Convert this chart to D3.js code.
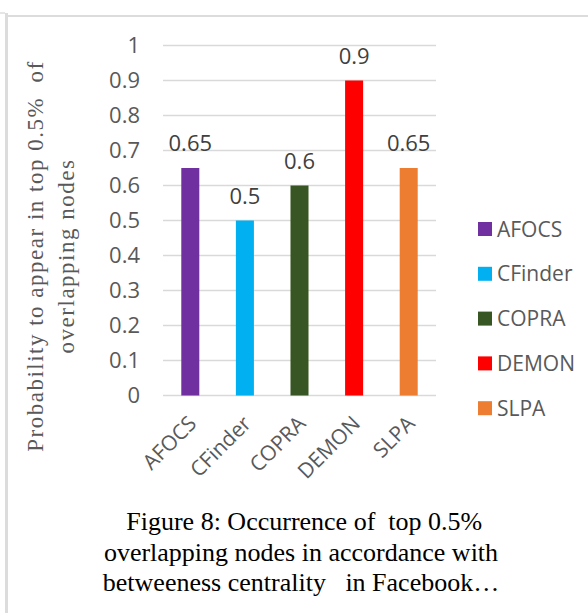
<!DOCTYPE html>
<html>
<head>
<meta charset="utf-8">
<script src="https://cdn.jsdelivr.net/npm/d3@7"></script>
<style>
  body { margin: 0; background: #fff; }
  svg { display: block; }
</style>
</head>
<body>
<div class="board"></div>
<script>
// chart data
var methods = ['AFOCS', 'CFinder', 'COPRA', 'DEMON', 'SLPA'];
var probability = [0.65, 0.5, 0.6, 0.9, 0.65];
var barColors = ['#7030A0', '#00B0F0', '#375623', '#FF0000', '#ED7D31'];
var yTicks = [0, 0.1, 0.2, 0.3, 0.4, 0.5, 0.6, 0.7, 0.8, 0.9, 1];
var yTitle = ['Probability to appear in top 0.5%\u00a0 of', 'overlapping nodes'];
var caption = ['\u00a0Figure 8: Occurrence of\u00a0 top 0.5%',
               'overlapping nodes in accordance with',
               'betweeness centrality \u00a0 in Facebook\u2026'];

var width = 588;
var height = 613;
var sans = "'Open Sans', sans-serif";
var serif = "'Liberation Serif', 'Times New Roman', serif";
var grey = '#595959';

var chart = d3.select('.board')
              .append('svg')
              .attr('width', width)
              .attr('height', height);

// frame of the original page
chart.append('rect').attr('x', 5).attr('y', 13).attr('width', 3).attr('height', height - 13).attr('fill', '#dcdcdc');
chart.append('rect').attr('x', 0).attr('y', 12).attr('width', 5).attr('height', 2).attr('fill', '#e6e6e6');
chart.append('rect').attr('x', 8).attr('y', 15).attr('width', width - 8).attr('height', 2).attr('fill', '#dcdcdc');

var XScale = d3.scaleBand()
               .domain(methods)
               .range([163, 436])
               .paddingInner(0.67)
               .paddingOuter(0.335);

var YScale = d3.scaleLinear()
               .domain([0, 1])
               .range([395.5, 45.5]);

// gridlines
chart.append('g')
     .selectAll('line')
     .data(yTicks)
     .enter()
     .append('line')
     .attr('x1', 163)
     .attr('x2', 436)
     .attr('y1', d => YScale(d))
     .attr('y2', d => YScale(d))
     .attr('stroke', '#d9d9d9')
     .attr('stroke-width', 1.5);

// y axis labels
var YAxis = d3.axisLeft(YScale).tickValues(yTicks).tickSize(0).tickPadding(0).tickFormat(d3.format('~g'));
var yAxisG = chart.append('g')
     .attr('transform', 'translate(140,0)')
     .call(YAxis);
yAxisG.select('.domain').remove();
yAxisG.selectAll('text')
      .attr('font-family', sans)
      .attr('font-size', 22)
      .attr('fill', grey);

// bars
chart.append('g')
     .selectAll('rect')
     .data(probability)
     .enter()
     .append('rect')
     .attr('x', (d, i) => XScale(methods[i]))
     .attr('y', d => YScale(d))
     .attr('width', XScale.bandwidth())
     .attr('height', d => YScale(0) - YScale(d))
     .attr('fill', (d, i) => barColors[i]);

// value labels
chart.append('g')
     .selectAll('text')
     .data(probability)
     .enter()
     .append('text')
     .attr('x', (d, i) => XScale(methods[i]) + XScale.bandwidth() / 2)
     .attr('y', d => YScale(d) - 17)
     .attr('text-anchor', 'middle')
     .attr('font-family', sans)
     .attr('font-size', 22)
     .attr('fill', '#404040')
     .text(d => d);

// x axis labels, rotated
var XAxis = d3.axisBottom(XScale).tickSize(0).tickPadding(0);
var xAxisG = chart.append('g')
     .attr('transform', 'translate(0,' + (YScale(0) + 19) + ')')
     .call(XAxis);
xAxisG.select('.domain').remove();
xAxisG.selectAll('text')
      .attr('font-family', sans)
      .attr('font-size', 21)
      .attr('fill', grey)
      .attr('text-anchor', 'end')
      .attr('dy', '0.7em')
      .attr('transform', 'translate(-3,0) rotate(-45)');

// legend
var legend = chart.append('g')
     .selectAll('g')
     .data(methods)
     .enter()
     .append('g')
     .attr('transform', (d, i) => 'translate(478,' + (229 + i * 44.8) + ')');
legend.append('rect')
      .attr('x', 0).attr('y', -7)
      .attr('width', 14).attr('height', 14)
      .attr('fill', (d, i) => barColors[i]);
legend.append('text')
      .attr('x', 19)
      .attr('dy', '0.36em')
      .attr('font-family', sans)
      .attr('font-size', 21)
      .attr('fill', grey)
      .text(d => d);

// y title
chart.append('g')
     .attr('transform', 'translate(43,256) rotate(-90)')
     .selectAll('text')
     .data(yTitle)
     .enter()
     .append('text')
     .attr('y', (d, i) => i * 31)
     .attr('text-anchor', 'middle')
     .attr('font-family', serif)
     .attr('font-size', 23)
     .attr('letter-spacing', 1.5)
     .attr('fill', grey)
     .text(d => d);

// caption
chart.append('g')
     .selectAll('text')
     .data(caption)
     .enter()
     .append('text')
     .attr('x', 301)
     .attr('y', (d, i) => 530 + i * 30.5)
     .attr('text-anchor', 'middle')
     .attr('font-family', serif)
     .attr('font-size', 26)
     .attr('fill', '#000')
     .text(d => d);
</script>
</body>
</html>
